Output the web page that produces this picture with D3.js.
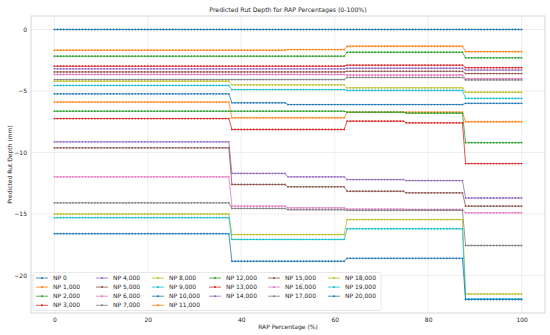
<!DOCTYPE html>
<html><head><meta charset="utf-8">
<script src="https://cdn.jsdelivr.net/npm/d3@7"></script>
<style>html,body{margin:0;padding:0;background:#fff;}svg{display:block;font-family:"DejaVu Sans",sans-serif;}</style>
</head><body>
<svg id="c" width="550" height="335"></svg>
<script>
// ---- data ----
const seriesNames = ["NP 0","NP 1,000","NP 2,000","NP 3,000","NP 4,000","NP 5,000","NP 6,000","NP 7,000","NP 8,000","NP 9,000","NP 10,000","NP 11,000","NP 12,000","NP 13,000","NP 14,000","NP 15,000","NP 16,000","NP 17,000","NP 18,000","NP 19,000","NP 20,000"];
// RAP % where the predicted level changes
const segmentBreaks = [37.5, 50, 62.5, 75, 87.5];
// predicted rut depth (mm) per series, for each RAP segment
const rutSeg1 = [0,-1.68,-2.17,-2.98,-3.2,-3.45,-3.66,-4.07,-4.2,-4.55,-5.23,-5.9,-6.64,-7.24,-9.13,-9.62,-11.98,-14.09,-15.0,-15.3,-16.6];
const rutSeg2 = [0,-1.68,-2.17,-2.98,-3.2,-3.45,-3.66,-4.07,-4.5,-4.88,-5.96,-7.18,-6.64,-8.13,-11.7,-12.6,-14.36,-14.55,-16.67,-17.07,-18.84];
const rutSeg3 = [0,-1.63,-2.17,-2.98,-3.2,-3.45,-3.66,-4.07,-4.5,-4.88,-6.1,-7.18,-6.64,-8.13,-11.98,-12.79,-14.5,-14.65,-16.67,-17.07,-18.84];
const rutSeg4 = [0,-1.36,-1.85,-2.9,-3.15,-3.4,-3.7,-3.9,-4.74,-4.95,-6.1,-6.72,-6.72,-7.45,-12.2,-13.15,-14.6,-14.7,-15.45,-16.2,-18.6];
const rutSeg5 = [0,-1.36,-1.85,-2.9,-3.15,-3.4,-3.7,-3.9,-4.74,-4.95,-6.1,-6.72,-6.8,-7.59,-12.28,-13.28,-14.63,-14.7,-15.45,-16.2,-18.6];
const rutSeg6 = [0,-1.8,-2.3,-3.1,-3.3,-3.58,-4.0,-4.1,-5.1,-5.6,-6.0,-7.5,-9.2,-10.9,-13.7,-14.36,-14.9,-17.56,-21.5,-21.9,-21.95];
const rapPercent = d3.range(0, 151).map(i => i * 100 / 150);
const xTicks = [0,20,40,60,80,100];
const yTicks = [0,-5,-10,-15,-20];

// ---- build ----
const segs = [rutSeg1,rutSeg2,rutSeg3,rutSeg4,rutSeg5,rutSeg6];
const series = seriesNames.map((name,i) => ({
  name,
  values: rapPercent.map(p => ({x:p, y: segs[d3.bisectRight(segmentBreaks,p)][i]}))
}));

const svg = d3.select("#c");
const L=31,R=545,T=16,B=313;
const x = d3.scaleLinear().domain([-5,105]).range([L,R]);
const yMin = d3.min(segs.flat()), yMax = d3.max(segs.flat());
const pad = (yMax-yMin)*0.05;
const y = d3.scaleLinear().domain([yMin-pad, yMax+pad]).range([B,T]);
const color = d3.scaleOrdinal(d3.schemeCategory10);

// grid
const g = svg.append("g");
g.selectAll(".vx").data(xTicks).join("line")
  .attr("x1",d=>x(d)).attr("x2",d=>x(d)).attr("y1",T).attr("y2",B)
  .attr("stroke","#ebebeb").attr("stroke-width",0.8);
g.selectAll(".hy").data(yTicks).join("line")
  .attr("y1",d=>y(d)).attr("y2",d=>y(d)).attr("x1",L).attr("x2",R)
  .attr("stroke","#ebebeb").attr("stroke-width",0.8);

// axes
const xAxis = d3.axisBottom(x).tickValues(xTicks).tickSize(0).tickPadding(5);
const yAxis = d3.axisLeft(y).tickValues(yTicks).tickSize(0).tickPadding(4)
  .tickFormat(d => d < 0 ? "\u2212" + Math.abs(d) : d);
const ax = svg.append("g").attr("transform",`translate(0,${B})`).call(xAxis);
const ay = svg.append("g").attr("transform",`translate(${L},0)`).call(yAxis);
[ax,ay].forEach(a => { a.select(".domain").remove(); a.selectAll("text").attr("font-size",6).attr("fill","#262626").attr("font-family","DejaVu Sans"); });

// lines
const line = d3.line().x(d=>x(d.x)).y(d=>y(d.y));
series.forEach((s,i) => {
  const sg = svg.append("g");
  sg.append("path").attr("d",line(s.values)).attr("fill","none")
    .attr("stroke",color(i)).attr("stroke-width",0.8);
  sg.selectAll("circle").data(s.values).join("circle")
    .attr("cx",d=>x(d.x)).attr("cy",d=>y(d.y)).attr("r",0.9).attr("fill",color(i));
});

// frame
svg.append("rect").attr("x",L).attr("y",T).attr("width",R-L).attr("height",B-T)
  .attr("fill","none").attr("stroke","#cccccc").attr("stroke-width",0.8);

// title & labels
svg.append("text").attr("x",(L+R)/2).attr("y",12).attr("text-anchor","middle")
  .attr("font-size",6.2).attr("fill","#262626").text("Predicted Rut Depth for RAP Percentages (0-100%)");
svg.append("text").attr("x",(L+R)/2).attr("y",329).attr("text-anchor","middle")
  .attr("font-size",6).attr("fill","#262626").text("RAP Percentage (%)");
svg.append("text").attr("transform",`translate(12,${(T+B)/2}) rotate(-90)`).attr("text-anchor","middle")
  .attr("font-size",6).attr("fill","#262626").text("Predicted Rut Depth (mm)");

// legend
const colX = [36, 96, 152, 209, 268, 328];
const colCounts = [4,4,4,3,3,3];
const lg = svg.append("g");
lg.append("rect").attr("x",33).attr("y",272.5).attr("width",348).attr("height",38)
  .attr("rx",2).attr("fill","#fff").attr("fill-opacity",0.8).attr("stroke","#d6d6d6").attr("stroke-width",0.6);
let idx = 0;
colCounts.forEach((n,c) => {
  for (let r=0; r<n; r++, idx++) {
    const yy = 278 + r*9.1, xx = colX[c];
    lg.append("line").attr("x1",xx).attr("x2",xx+12).attr("y1",yy).attr("y2",yy)
      .attr("stroke",color(idx)).attr("stroke-width",0.8);
    lg.append("circle").attr("cx",xx+6).attr("cy",yy).attr("r",1).attr("fill",color(idx));
    lg.append("text").attr("x",xx+17).attr("y",yy+2.1).attr("font-size",6).attr("fill","#262626").text(seriesNames[idx]);
  }
});
</script>
</body></html>
